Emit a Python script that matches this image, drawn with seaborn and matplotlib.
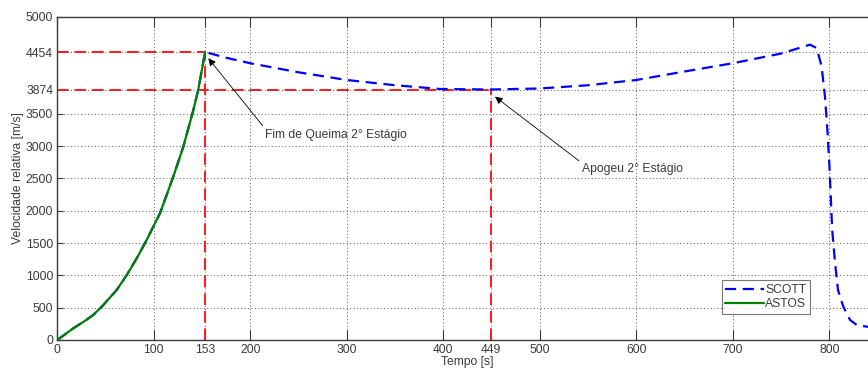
import matplotlib
matplotlib.use("Agg")
import matplotlib.pyplot as plt
import seaborn as sns
import pandas as pd

# ---- data ----
t_scott = [0, 16.6, 28, 37.3, 47.7, 61.5, 72, 82.3, 92.6, 99.5, 106.4, 120.2, 130.6, 141, 146, 151.3, 153,
           175, 200, 250, 300, 350, 397, 449, 500, 550, 600, 649, 700, 750, 780,
           787, 792, 795.5, 798, 800, 801.5, 803, 806, 809, 814.5, 821.5, 828.5, 839, 850]
v_scott = [0, 181, 290, 387, 541, 773, 1005, 1263, 1547, 1754, 1959, 2526, 2990, 3557, 3866, 4300, 4454,
           4365, 4280, 4140, 4021, 3940, 3882, 3874, 3890, 3940, 4021, 4150, 4280, 4430, 4567,
           4515, 4231, 3766, 3251, 2735, 2219, 1703, 1187, 774, 516, 310, 232, 206, 200]

t_astos = [0, 16.6, 28, 37.3, 47.7, 61.5, 72, 82.3, 92.6, 99.5, 106.4, 120.2, 130.6, 141, 146, 151.3, 153]
v_astos = [0, 181, 290, 387, 541, 773, 1005, 1263, 1547, 1754, 1959, 2526, 2990, 3557, 3866, 4300, 4454]

x_ticks = [0, 100, 153, 200, 300, 400, 449, 500, 600, 700, 800]
y_ticks = [0, 500, 1000, 1500, 2000, 2500, 3000, 3500, 3874, 4454, 5000]

burnout_t, burnout_v = 153, 4454
apogee_t, apogee_v = 449, 3874

label_burnout = "Fim de Queima 2° Estágio"
label_apogee = "Apogeu 2° Estágio"

sns.set_style("white")
plt.rcParams['font.family'] = ['Liberation Sans', 'DejaVu Sans']

W, H = 868, 370
fig = plt.figure(figsize=(W / 100, H / 100), dpi=100)
ax_left = 57.3 / W
ax_bottom = 1 - 340 / H
ax_h = 323.3 / H
ax_w = 850 * 0.965 / W
ax = fig.add_axes([ax_left, ax_bottom, ax_w, ax_h])

txt_col = '#3a3a3a'
fs = 8.7

# reference lines
ax.plot([0, burnout_t], [burnout_v, burnout_v], color='#ff1a1a', ls=(0, (6, 3)), lw=1.4, zorder=2)
ax.plot([burnout_t, burnout_t], [0, burnout_v], color='#ff1a1a', ls=(0, (6, 3)), lw=1.4, zorder=2)
ax.plot([0, apogee_t], [apogee_v, apogee_v], color='#ff1a1a', ls=(0, (6, 3)), lw=1.4, zorder=2)
ax.plot([apogee_t, apogee_t], [0, apogee_v], color='#ff1a1a', ls=(0, (6, 3)), lw=1.4, zorder=2)

df_s = pd.DataFrame({"t": t_scott, "v": v_scott})
df_a = pd.DataFrame({"t": t_astos, "v": v_astos})
sns.lineplot(data=df_s, x="t", y="v", ax=ax, color='#0000ff', lw=1.6,
             linestyle=(0, (5, 3)), label='SCOTT', sort=False, zorder=3)
sns.lineplot(data=df_a, x="t", y="v", ax=ax, color='#008000', lw=1.6,
             label='ASTOS', sort=False, zorder=4)

ax.set_xlim(0, 850)
ax.set_ylim(0, 5000)
ax.set_xticks(x_ticks)
ax.set_yticks(y_ticks)
ax.tick_params(axis='both', direction='in', labelsize=fs, colors=txt_col,
               top=True, bottom=True, left=True, right=False)
ax.tick_params(axis='x', length=7, width=0.8, pad=3)
ax.tick_params(axis='y', length=4, width=0.8, pad=3)
ax.grid(True, ls=(0, (1, 2.5)), color='#555555', lw=0.7)

for s in ['left', 'bottom', 'top']:
    ax.spines[s].set_color('#3a3a3a')
    ax.spines[s].set_linewidth(1.0)
ax.spines['right'].set_visible(False)

ax.set_xlabel("Tempo [s]", fontsize=fs, color=txt_col, labelpad=0)
ax.set_ylabel("Velocidade relativa [m/s]", fontsize=fs, color=txt_col, labelpad=1)

arrow_kw = dict(arrowstyle='-|>', color='black', lw=0.6, mutation_scale=11,
                shrinkA=0, shrinkB=0, relpos=(0, 1))
ax.annotate(label_burnout, xy=(156.5, 4357), xytext=(215.5, 3171), fontsize=fs,
            color=txt_col, ha='left', va='center', arrowprops=arrow_kw)
ax.annotate(label_apogee, xy=(453.6, 3763), xytext=(544, 2640), fontsize=fs,
            color=txt_col, ha='left', va='center', arrowprops=arrow_kw)

leg = ax.legend(loc='lower right', bbox_to_anchor=(810 / W, 1 - 314 / H),
                bbox_transform=fig.transFigure, fontsize=fs, frameon=True,
                fancybox=False, edgecolor='#555555', handlelength=3.2,
                handletextpad=0.1, borderpad=0.3, labelspacing=0.2,
                borderaxespad=0)
leg.get_frame().set_linewidth(0.8)
for t in leg.get_texts():
    t.set_color(txt_col)

fig.savefig("out.png", dpi=100)
